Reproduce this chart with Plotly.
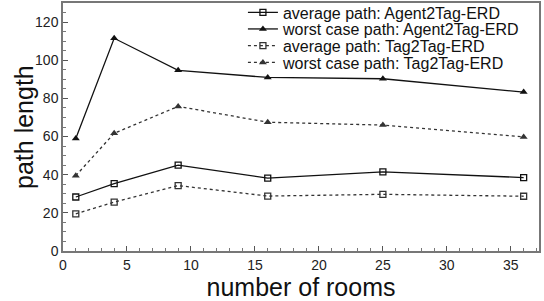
import plotly.graph_objects as go

rooms = [1, 4, 9, 16, 25, 36]
avg_agent2tag = [28.3, 35.3, 45.0, 38.2, 41.5, 38.5]
worst_agent2tag = [59.0, 111.5, 94.7, 91.0, 90.3, 83.3]
avg_tag2tag = [19.5, 25.6, 34.3, 28.8, 29.7, 28.7]
worst_tag2tag = [39.5, 61.7, 75.8, 67.5, 66.0, 59.8]

names = [
    "average path: Agent2Tag-ERD",
    "worst case path: Agent2Tag-ERD",
    "average path: Tag2Tag-ERD",
    "worst case path: Tag2Tag-ERD",
]
x_title = "number of rooms"
y_title = "path length"

FONT = "Liberation Sans, Arial, Helvetica, sans-serif"

fig = go.Figure()
fig.add_trace(go.Scatter(x=rooms, y=avg_agent2tag, name=names[0], mode="lines+markers", legend="legend",
                         line=dict(color="#111111", width=1.3),
                         marker=dict(symbol="square-open", size=6, color="#111111", line=dict(width=1.3))))
fig.add_trace(go.Scatter(x=rooms, y=worst_agent2tag, name=names[1], mode="lines+markers", legend="legend2",
                         line=dict(color="#111111", width=1.3),
                         marker=dict(symbol="triangle-up", size=7, color="#111111")))
fig.add_trace(go.Scatter(x=rooms, y=avg_tag2tag, name=names[2], mode="lines+markers", legend="legend3",
                         line=dict(color="#333333", width=1.3, dash="dot"),
                         marker=dict(symbol="square-open", size=6, color="#333333", line=dict(width=1.3))))
fig.add_trace(go.Scatter(x=rooms, y=worst_tag2tag, name=names[3], mode="lines+markers", legend="legend4",
                         line=dict(color="#333333", width=1.3, dash="dot"),
                         marker=dict(symbol="triangle-up", size=7, color="#333333")))

axis_common = dict(
    showgrid=False, zeroline=False, showline=True, linecolor="#777777", linewidth=1.5,
    mirror=True, ticks="inside", ticklen=5, tickcolor="#555555",
    tickfont=dict(family=FONT, size=14, color="#222222"),
)

fig.update_xaxes(range=[0, 37.2], tick0=0, dtick=5,
                 minor=dict(ticks="inside", ticklen=3, dtick=1, tickcolor="#777777"),
                 title=dict(text=x_title, font=dict(family=FONT, size=25, color="#111111"), standoff=9),
                 **axis_common)
fig.update_yaxes(range=[0, 130], tick0=0, dtick=20,
                 minor=dict(ticks="inside", ticklen=3, dtick=5, tickcolor="#777777"),
                 **axis_common)

fig.add_annotation(text=y_title, xref="paper", yref="paper", x=-0.082, y=0.5,
                   xanchor="center", yanchor="middle", textangle=-90, showarrow=False,
                   font=dict(family=FONT, size=25, color="#111111"))

legend_base = dict(x=0.378, xanchor="left", yanchor="middle",
                   font=dict(family=FONT, size=16, color="#111111"),
                   bgcolor="rgba(0,0,0,0)", borderwidth=0)
fig.update_layout(
    width=544, height=301,
    margin=dict(l=63, r=5, t=3, b=50, autoexpand=False),
    paper_bgcolor="white", plot_bgcolor="white",
    showlegend=True,
    legend=dict(y=0.962, **legend_base),
    legend2=dict(y=0.895, **legend_base),
    legend3=dict(y=0.828, **legend_base),
    legend4=dict(y=0.760, **legend_base),
)

fig.write_html("out.html", config={"displayModeBar": False},
               post_script="document.body.style.margin='0';document.body.style.padding='0';")
